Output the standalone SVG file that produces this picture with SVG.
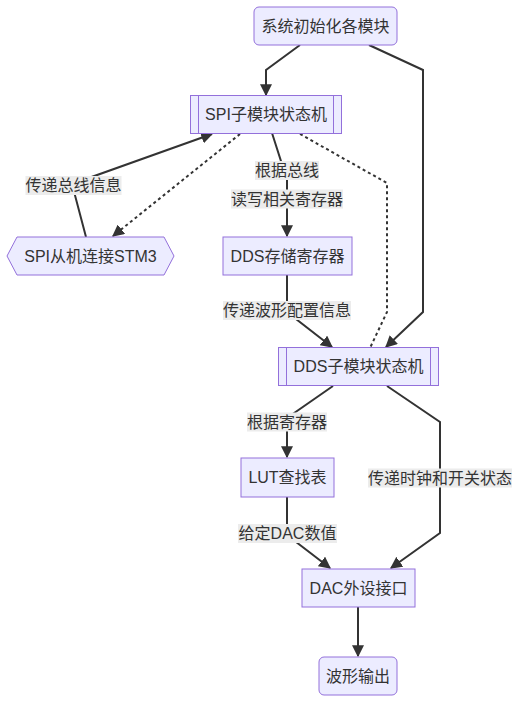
<svg xmlns="http://www.w3.org/2000/svg" width="520" height="703" viewBox="0 0 520 703">
<defs>
<style>
.node{fill:#ECECFF;stroke:#9370DB;stroke-width:1}
.sub{fill:none;stroke:#9370DB;stroke-width:1}
.t{font-family:"Liberation Sans","Noto Sans CJK SC",sans-serif;font-size:16px;fill:#333;text-anchor:middle;dominant-baseline:central}
.e{fill:none;stroke:#333;stroke-width:2}
.d{fill:none;stroke:#333;stroke-width:2;stroke-dasharray:3 3}
.lb{fill:#ececec}
</style>
<marker id="arr" viewBox="0 0 10 10" refX="9" refY="5" markerUnits="userSpaceOnUse" markerWidth="12" markerHeight="12" orient="auto">
<path d="M0,0 L10,5 L0,10 z" fill="#333"/>
</marker>
</defs>
<rect width="520" height="703" fill="#ffffff"/>
<g id="edges">
<path class="e" d="M300,45 L266,70 L266,95" marker-end="url(#arr)"/>
<path class="e" d="M369,45 L423,70 L423,312 L386,347" marker-end="url(#arr)"/>
<path class="e" d="M86,237 L72,184 L212,134" marker-end="url(#arr)"/>
<path class="d" d="M240,134 L113,236" marker-end="url(#arr)"/>
<path class="e" d="M272,133 L287,180 L287,236" marker-end="url(#arr)"/>
<path class="d" d="M300,134 L387,183 L387,312 L370,348"/>
<path class="e" d="M287,275 L287,312 L332,347" marker-end="url(#arr)"/>
<path class="e" d="M333,386 L287,418 L287,457" marker-end="url(#arr)"/>
<path class="e" d="M387,386 L440,422 L440,533 L391,568" marker-end="url(#arr)"/>
<path class="e" d="M287,497 L287,535 L330,568" marker-end="url(#arr)"/>
<path class="e" d="M358,607 L358,656" marker-end="url(#arr)"/>
</g>
<g id="labels">
<rect class="lb" x="25.5" y="176" width="96" height="19"/>
<text class="t" x="73.5" y="185.5">传递总线信息</text>
<rect class="lb" x="255" y="161" width="64" height="19"/>
<text class="t" x="287" y="170.5">根据总线</text>
<rect class="lb" x="231" y="189.5" width="112" height="19"/>
<text class="t" x="287" y="199">读写相关寄存器</text>
<rect class="lb" x="223" y="301" width="128" height="19"/>
<text class="t" x="287" y="310.5">传递波形配置信息</text>
<rect class="lb" x="247" y="412.5" width="80" height="19"/>
<text class="t" x="287" y="422">根据寄存器</text>
<rect class="lb" x="368" y="468.5" width="144" height="19"/>
<text class="t" x="440" y="478">传递时钟和开关状态</text>
<rect class="lb" x="238" y="524" width="99" height="19"/>
<text class="t" x="287.5" y="533.5">给定DAC数值</text>
</g>
<g id="n1">
<rect class="node" x="254" y="7" width="143" height="38" rx="5" ry="5"/>
<text class="t" x="325.5" y="26">系统初始化各模块</text>
</g>
<g id="n2">
<rect class="node" x="190.5" y="95.5" width="151" height="38"/>
<line class="sub" x1="198.5" y1="95.5" x2="198.5" y2="133.5"/>
<line class="sub" x1="333.5" y1="95.5" x2="333.5" y2="133.5"/>
<text class="t" x="266" y="114.5">SPI子模块状态机</text>
</g>
<g id="n3">
<polygon class="node" points="7,256 17,237 164,237 174,256 164,275 17,275"/>
<text class="t" x="90.5" y="256">SPI从机连接STM3</text>
</g>
<g id="n4">
<rect class="node" x="223" y="237" width="129" height="38"/>
<text class="t" x="287.5" y="256">DDS存储寄存器</text>
</g>
<g id="n5">
<rect class="node" x="278.5" y="347.5" width="160" height="38"/>
<line class="sub" x1="286.5" y1="347.5" x2="286.5" y2="385.5"/>
<line class="sub" x1="430.5" y1="347.5" x2="430.5" y2="385.5"/>
<text class="t" x="358.5" y="366.5">DDS子模块状态机</text>
</g>
<g id="n6">
<rect class="node" x="241" y="458" width="93" height="39"/>
<text class="t" x="287.5" y="477.5">LUT查找表</text>
</g>
<g id="n7">
<rect class="node" x="302" y="569" width="113" height="38"/>
<text class="t" x="358.5" y="588">DAC外设接口</text>
</g>
<g id="n8">
<rect class="node" x="319" y="657" width="78" height="38" rx="5" ry="5"/>
<text class="t" x="358" y="676">波形输出</text>
</g>
</svg>
